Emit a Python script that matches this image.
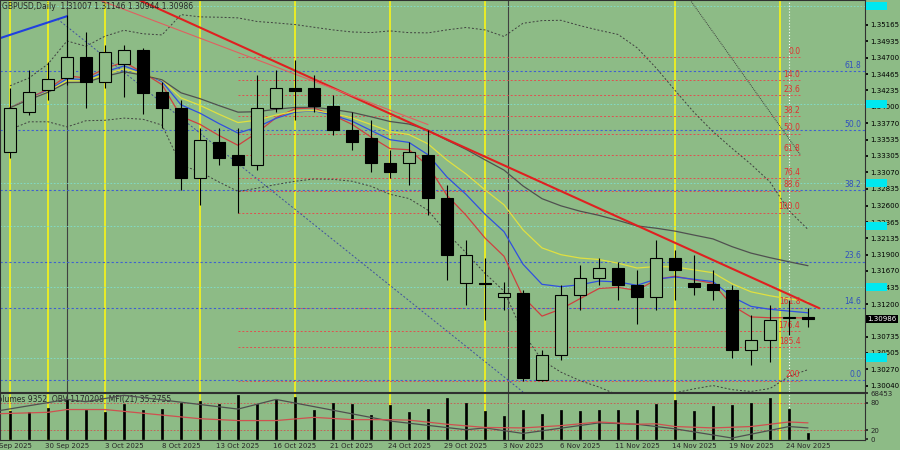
import numpy as np, pandas as pd, matplotlib
matplotlib.use("Agg")
import matplotlib.pyplot as plt, seaborn as sns

opens  = [1.3336,1.3393,1.3424,1.3441,1.3471,1.3436,1.3461,1.3481,1.3421,1.3399,1.3299,1.3350,1.3332,1.3318,1.3399,1.3427,1.3427,1.3401,1.3367,1.3356,1.3321,1.3321,1.3332,1.3271,1.3150,1.3150,1.3130,1.3136,1.3012,1.3048,1.3133,1.3157,1.3171,1.3147,1.3130,1.3186,1.3150,1.3149,1.3140,1.3055,1.3069,1.3100,1.3101]
closes = [1.3399,1.3421,1.3440,1.3471,1.3436,1.3478,1.3481,1.3420,1.3399,1.3299,1.3353,1.3328,1.3318,1.3399,1.3427,1.3423,1.3401,1.3367,1.3350,1.3321,1.3308,1.3336,1.3271,1.3190,1.3190,1.3149,1.3136,1.3015,1.3048,1.3133,1.3157,1.3171,1.3147,1.3130,1.3186,1.3169,1.3144,1.3140,1.3055,1.3069,1.3098,1.3101,1.3099]
highs  = [1.3427,1.3453,1.3464,1.3531,1.3507,1.3488,1.3488,1.3484,1.3436,1.3410,1.3370,1.3370,1.3370,1.3446,1.3453,1.3467,1.3446,1.3417,1.3393,1.3382,1.3339,1.3350,1.3367,1.3289,1.3211,1.3186,1.3152,1.3140,1.3055,1.3147,1.3176,1.3186,1.3180,1.3169,1.3211,1.3197,1.3190,1.3169,1.3147,1.3105,1.3119,1.3126,1.3115]
lows   = [1.3328,1.3389,1.3410,1.3431,1.3399,1.3427,1.3414,1.3390,1.3370,1.3282,1.3261,1.3318,1.3250,1.3311,1.3393,1.3382,1.3393,1.3360,1.3339,1.3308,1.3299,1.3289,1.3247,1.3154,1.3119,1.3098,1.3112,1.3010,1.3010,1.3041,1.3112,1.3147,1.3126,1.3091,1.3112,1.3126,1.3133,1.3126,1.3044,1.3034,1.3038,1.3076,1.3088]
volumes = [61,59,69,87,63,59,76,63,67,79,84,76,96,78,89,92,63,80,78,54,74,59,67,91,80,61,51,64,56,64,61,63,64,63,77,86,61,73,74,80,91,66,13]
obv_x = [-0.5,3,4,6,12,14,20,24,25,27,31,33,35,38,41,42]
obv_v = [63,87,82,96,66,87,40,21,25,13,36,33,23,3,28,25]
mfi_x = [-0.5,2,3,5,8,10,12,14,16,18,20,21,23,25,27,29,31,33,34,35,37,39,41,42]
mfi_v = [56,59,65,65,53,45,41,41,48,43,43,42,33,26,25,30,38,33,34,28,25,28,38,36]
date_idx = [0,3,6,9,12,15,18,21,24,27,30,33,36,39,42]
date_lbl = ["25 Sep 2025","30 Sep 2025","3 Oct 2025","8 Oct 2025","13 Oct 2025","16 Oct 2025","21 Oct 2025","24 Oct 2025","29 Oct 2025","3 Nov 2025","6 Nov 2025","11 Nov 2025","14 Nov 2025","19 Nov 2025","24 Nov 2025"]
fib_red = [1.3471,1.3438,1.3417,1.3387,1.3362,1.3332,1.3299,1.3281,1.3250,1.3115,1.3081,1.3059,1.3011]
fib_red_lbl = ["0.0","14.0","23.6","38.2","50.0","61.8","76.4","88.6","100.0","161.8","176.4","185.4","200"]
fib_blue = [1.3451,1.3367,1.3282,1.3180,1.3115,1.3012]
fib_blue_lbl = ["61.8","50.0","38.2","23.6","14.6","0.0"]
cyan_lv = [1.3543,1.3404,1.3292,1.3231,1.3144,1.3044]
yticks = [1.35165,1.34935,1.34700,1.34465,1.34235,1.34000,1.33770,1.33535,1.33305,1.33070,1.32835,1.32600,1.32365,1.32135,1.31900,1.31670,1.31435,1.31200,1.30735,1.30505,1.30270,1.30040]
yellow_x = [0,2,5,10,15,20,25,35,40.5]

bg = "#8dbb86"
sns.set_theme(style="white")
plt.rcParams['font.family'] = ['DejaVu Sans']
fig = plt.figure(figsize=(9,4.5), dpi=100, facecolor=bg)
ax = fig.add_axes([0, 58/450, 865/900, 392/450], facecolor=bg)
ax2 = fig.add_axes([0, 10/450, 865/900, 47/450], facecolor=bg, sharex=ax)
n = len(opens); idx = np.arange(n)
df = pd.DataFrame({"i": idx, "c": closes})
ax.set_xlim(-10/19, 855/19); ax.set_ylim(1.2995, 1.3552)

for x in yellow_x:
    ax.axvline(x, color="#f0f020", lw=1.3, zorder=1); ax2.axvline(x, color="#f0f020", lw=1.3, zorder=1)
for x in [3, 26.2]:
    ax.axvline(x, color="#404040", lw=0.8, zorder=1); ax2.axvline(x, color="#404040", lw=0.8, zorder=1)
ax.axvline(41, color="white", lw=0.8, ls=":", zorder=1); ax2.axvline(41, color="white", lw=0.8, ls=":", zorder=1)
for v in cyan_lv:
    ax.axhline(v, color="#7fe0d0", lw=0.6, ls=(0,(2,2)), zorder=1)
for v, l in zip(fib_red, fib_red_lbl):
    ax.hlines(v, 12, 41.6, color="#e05050", lw=0.7, ls=(0,(2,2)), zorder=1)
    ax.text(41.6, v+0.0002, l, color="#e03030", fontsize=5.5, ha="right", va="bottom")
for v, l in zip(fib_blue, fib_blue_lbl):
    ax.axhline(v, color="#4060d0", lw=0.8, ls=(0,(2,2)), zorder=1)
    ax.text(44.8, v+0.0002, l, color="#3050c0", fontsize=5.5, ha="right", va="bottom")

ma_specs = [(5,"#d04040"),(8,"#3050e0"),(13,"#e0e040"),(30,"#505050")]
for span, col in ma_specs:
    df["m"] = df["c"].ewm(span=span).mean()
    sns.lineplot(data=df, x="i", y="m", ax=ax, color=col, lw=0.9, zorder=2)
mid = df["c"].rolling(20, min_periods=1).mean(); sd = df["c"].rolling(20, min_periods=2).std().bfill()
for band in [mid+2*sd, mid-2*sd]:
    ax.plot(idx, band, color="#404040", lw=0.7, ls=(0,(2,2)), zorder=2)
ax.plot([-0.5,3], [1.3498,1.3529], color="#2040e0", lw=1.5)
ax.plot([6.8,42.6], [1.3552,1.3114], color="#e02020", lw=1.5)
ax.plot([4.7,22], [1.3552,1.3375], color="#e06060", lw=0.8)
ax.plot([2.5,27], [1.3525,1.2995], color="#4050a0", lw=0.7, ls=(0,(2,2)))
ax.plot([35.8,41.6], [1.3552,1.3332], color="#404040", lw=0.7, ls=(0,(1,1)))

for i in idx:
    o, c, h, l = opens[i], closes[i], highs[i], lows[i]
    ax.vlines(i, l, h, color="black", lw=0.8, zorder=3)
    lo, hi = min(o,c), max(o,c)
    ax.bar(i, max(hi-lo, 0.00005), bottom=lo, width=0.6, color=bg if c >= o else "black", edgecolor="black", lw=0.8, zorder=4)

ax.yaxis.tick_right(); ax.set_yticks(yticks)
ax.set_yticklabels([f"{t:.5f}" for t in yticks], fontsize=5)
ax.tick_params(axis="y", length=2.5, pad=1.5, colors="black")
ax.annotate("1.30986", xy=(1.003, 1.30986), xycoords=("axes fraction","data"), fontsize=5, color="white", va="center",
            bbox=dict(fc="black", ec="none", pad=0.8), annotation_clip=False)
for v in cyan_lv:
    ax.annotate("        ", xy=(1.003, v), xycoords=("axes fraction","data"), fontsize=5, va="center",
                bbox=dict(fc="#00e8f0", ec="none", pad=0.8), annotation_clip=False)
ax.tick_params(axis="x", bottom=False, labelbottom=False)
ax.text(0.002, 0.995, "GBPUSD,Daily  1.31007 1.31146 1.30944 1.30986", transform=ax.transAxes, fontsize=5.5, va="top")

ax2.set_ylim(-1.3, 101)
ax2.bar(idx, volumes, width=0.12, color="black", edgecolor="black", lw=0.5, zorder=3)
sns.lineplot(x=obv_x, y=obv_v, ax=ax2, color="#505050", lw=0.9, zorder=4)
sns.lineplot(x=mfi_x, y=mfi_v, ax=ax2, color="#d05050", lw=0.9, zorder=4)
for v in [80, 20]:
    ax2.axhline(v, color="#d05050", lw=0.6, ls=(0,(2,2)))
ax2.yaxis.tick_right(); ax2.set_yticks([0,20,80,100]); ax2.set_yticklabels(["0","20","80","68453"], fontsize=5)
ax2.tick_params(axis="y", length=2.5, pad=1.5)
ax2.set_xticks(date_idx); ax2.set_xticklabels(date_lbl, fontsize=5)
ax2.tick_params(axis="x", length=2, pad=0.5)
ax2.text(-0.9, 97, "Volumes 9352  OBV 1170208  MFI(21) 35.2755", fontsize=5.5, va="top")
ax2.set_xlabel(""); ax2.set_ylabel(""); ax.set_xlabel(""); ax.set_ylabel("")
for a in (ax, ax2):
    for s in a.spines.values(): s.set_color("#303030"); s.set_linewidth(0.8)
fig.savefig("out.png", dpi=100, facecolor=bg)
